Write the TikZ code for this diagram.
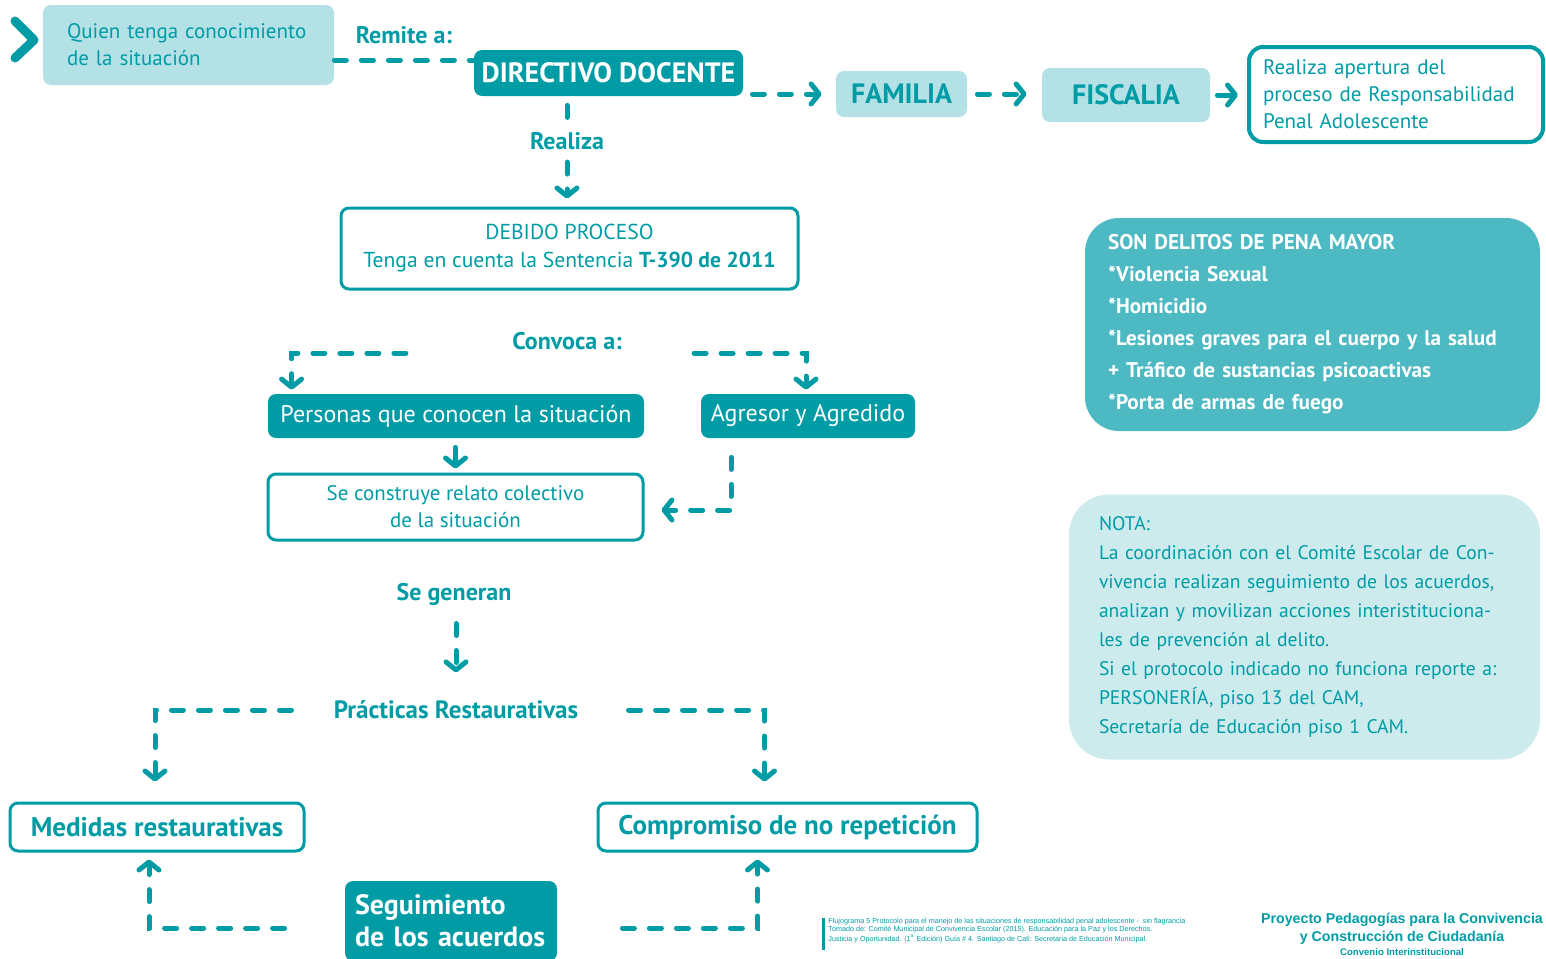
\documentclass[tikz,border=0pt]{standalone}
\usepackage{fontspec}
\setmainfont{PT Sans}
\newfontfamily\footfont{Liberation Sans}
\usetikzlibrary{arrows.meta,positioning,calc}
\definecolor{tealdark}{HTML}{009CA6}
\definecolor{teallight}{HTML}{B3E1E6}
\definecolor{tealmid}{HTML}{4DB9C3}
\definecolor{tealpale}{HTML}{CDEBED}

\begin{document}
\begin{tikzpicture}[x=0.5pt,y=-0.5pt,
    box/.style={rounded corners=4pt, inner sep=0pt, align=center},
    darkbox/.style={box, fill=tealdark, text=white},
    lightbox/.style={box, fill=teallight, text=tealdark},
    linebox/.style={box, draw=tealdark, line width=1.5pt, fill=white, text=tealdark},
    lbl/.style={text=tealdark, inner sep=1pt, font=\bfseries\fontsize{12}{14}\selectfont},
    flow/.style={draw=tealdark, line width=2.5pt, line cap=round, dash pattern=on 6pt off 7.5pt,
        -{Straight Barb[round,length=4pt,width=10pt]}},
    trail/.style={flow, -},
    link/.style={flow, solid}
  ]
    \def\body{\fontsize{10.5}{13.5}\selectfont}
    \def\head{\bfseries\fontsize{14}{16}\selectfont}
    \useasboundingbox (0,0) rectangle (1546,958);
    \clip (0,0) rectangle (1546,958);

    % entrada
    \draw[tealdark, line width=4.5pt, line cap=round, line join=round] (15,21) -- (34,40) -- (15,58);
    \node[lightbox, minimum width=145.5pt, minimum height=40pt, text width=121.5pt, align=left, font=\body]
        (quien) at (188.5,45) {Quien tenga conocimiento\\de la situación};
    \node[lbl] (remite) at (404,35) {Remite a:};
    \node[darkbox, minimum width=134.5pt, minimum height=23pt, font=\head] (dir) at (608.5,73) {DIRECTIVO DOCENTE};
    \node[lightbox, minimum width=65.5pt, minimum height=23pt, font=\head] (fam) at (901.5,94) {FAMILIA};
    \node[lightbox, minimum width=84pt, minimum height=27pt, font=\head] (fisc) at (1126,95) {FISCALIA};
    \node[box, draw=tealdark, line width=2pt, rounded corners=7pt, fill=white, text=tealdark,
        minimum width=147pt, minimum height=47.5pt, text width=133pt, align=left, font=\body]
        (aper) at (1396,94.5) {Realiza apertura del\\proceso de Responsabilidad\\Penal Adolescente};

    \draw[trail] ([yshift=-7.5pt]quien.east) -- ([yshift=-7.5pt]quien.east -| dir.west);
    \draw[flow, shorten <=4.5pt, shorten >=7pt] (dir.east |- fam.west) -- (fam.west);
    \draw[flow, shorten <=5pt, shorten >=7.5pt] (fam.east) -- (fam.east -| fisc.west);
    \draw[link, shorten <=3.5pt, shorten >=4.5pt] (fisc.east) -- (fisc.east -| aper.west);

    % debido proceso
    \node[lbl] (realiza) at (567,141) {Realiza};
    \node[linebox, minimum width=228.5pt, minimum height=40.5pt, font=\fontsize{10.8}{14}\selectfont]
        (proc) at (569.5,248.5) {DEBIDO PROCESO\\Tenga en cuenta la Sentencia \textbf{T-390 de 2011}};
    \draw[trail, shorten <=4.5pt, shorten >=4pt] (realiza |- dir.south) -- (realiza.north);
    \draw[flow, shorten <=5pt, shorten >=4pt] (realiza.south) -- (realiza |- proc.north);

    % convocatoria
    \node[lbl] (conv) at (567,341) {Convoca a:};
    \node[darkbox, minimum width=188pt, minimum height=22pt, font=\fontsize{12}{14}\selectfont] (pers) at (456,416) {Personas que conocen la situación};
    \node[darkbox, minimum width=107pt, minimum height=22pt, font=\fontsize{12}{14}\selectfont] (agr) at (808,416) {Agresor y Agredido};
    \node[linebox, minimum width=187.5pt, minimum height=33pt, font=\fontsize{10.5}{13.5}\selectfont] (rel) at (455.5,507) {Se construye relato colectivo\\de la situación};
    \draw[flow, shorten >=2pt] ([shift={(-52pt,-6pt)}]conv.west) -| ([xshift=12pt]pers.north west);
    \draw[flow, shorten >=2pt] ([shift={(35pt,-6pt)}]conv.east) -| ([xshift=-1pt]agr.north);
    \draw[link, shorten <=4.5pt, shorten >=2pt] (pers.south -| rel.north) -- (rel.north);
    \draw[flow, shorten <=9.5pt, shorten >=8.5pt] ([xshift=-38.5pt]agr.south) |- ([yshift=-1.5pt]rel.east);

    % practicas
    \node[lbl] (gen) at (454,594) {Se generan};
    \node[lbl, font=\bfseries\fontsize{12.5}{14}\selectfont] (prac) at (456,710) {Prácticas Restaurativas};
    \draw[flow, shorten <=8pt, shorten >=13pt] (gen.south -| prac.north) -- (prac.north);
    \node[linebox, minimum width=147pt, minimum height=24pt, font=\bfseries\fontsize{13.5}{15}\selectfont] (med) at (157,827) {Medidas restaurativas};
    \node[linebox, minimum width=189.5pt, minimum height=24pt, font=\bfseries\fontsize{13.5}{15}\selectfont] (comp) at (787.5,827) {Compromiso de no repetición};
    \node[darkbox, minimum width=106pt, minimum height=40pt, text width=96pt, align=left, font=\head] (seg) at (451,921) {Seguimiento\\de los acuerdos};
    \draw[flow, shorten >=10pt] ([xshift=-20pt]prac.west) -| ([xshift=-1pt]med.north);
    \draw[flow, shorten >=10pt] ([xshift=24pt]prac.east) -| ([xshift=-11.5pt]comp.north);
    \draw[flow, shorten >=3.5pt] ([shift={(-30pt,-3.5pt)}]seg.west) -| ([xshift=-4pt]med.south);
    \draw[flow, shorten >=3.5pt] ([shift={(32.5pt,-3.5pt)}]seg.east) -| ([xshift=-15pt]comp.south);

    % recuadros laterales
    \node[box, fill=tealmid, text=white, rounded corners=17pt, minimum width=227.5pt, minimum height=106.5pt,
        text width=204.5pt, align=left, font=\bfseries\fontsize{10.6}{16}\selectfont] (delit) at (1312.5,324.5)
        {SON DELITOS DE PENA MAYOR\\{*}Violencia Sexual\\{*}Homicidio\\{*}Lesiones graves para el cuerpo y la salud\\+ Tráfico de sustancias psicoactivas\\{*}Porta de armas de fuego};
    \node[box, fill=tealpale, text=tealdark, rounded corners=20pt, minimum width=235.5pt, minimum height=132.5pt,
        text width=205.5pt, align=left, font=\fontsize{9.8}{14.5}\selectfont] (nota) at (1304.5,627)
        {NOTA:\\La coordinación con el Comité Escolar de Con-\\vivencia realizan seguimiento de los acuerdos,\\analizan y movilizan acciones interistituciona-\\les de prevención al delito.\\Si el protocolo indicado no funciona reporte a:\\PERSONERÍA, piso 13 del CAM,\\Secretaría de Educación piso 1 CAM.};

    % pie
    \draw[tealdark, line width=1.5pt] (823,918) -- (823,950);
    \node[anchor=north west, inner sep=0pt, text=tealdark, align=left, font=\footfont\fontsize{3.6}{4}\selectfont] (fuente) at (828,918)
        {Flujograma 5 Protocolo para el manejo de las situaciones de responsabilidad penal adolescente -\ \ sin flagrancia\\Tomado de: Comité Municipal de Convivencia Escolar (2015). Educación para la Paz y los Derechos.\\Justicia y Oportunidad. (1\textsuperscript{a} Edición) Guía \# 4. Santiago de Cali: Secretaria de Educación Municipal.};
    \node[text=tealdark, inner sep=0pt, align=center, font=\footfont\bfseries\fontsize{7.1}{9}\selectfont] (proy) at (1402,929)
        {Proyecto Pedagogías para la Convivencia\\y Construcción de Ciudadanía};
    \node[text=tealdark, inner sep=0pt, font=\footfont\bfseries\fontsize{4.8}{5}\selectfont] (conven) at (1402,952) {Convenio Interinstitucional};
\end{tikzpicture}
\end{document}
